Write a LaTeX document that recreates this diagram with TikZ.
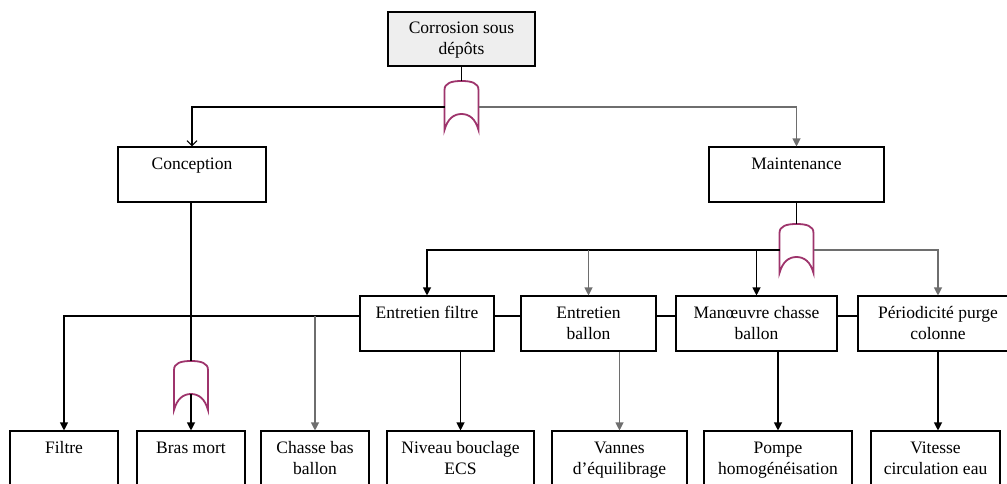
\documentclass[tikz,border=0pt]{standalone}
\usepackage{fontspec}
\setmainfont{Liberation Serif}
\usetikzlibrary{arrows.meta}
\definecolor{gatecol}{RGB}{158,52,108}
\definecolor{topfill}{RGB}{238,238,238}
\definecolor{lgray}{RGB}{110,110,110}
\tikzset{
  box/.style={draw, line width=1.1pt, rectangle, inner sep=0pt, minimum height=55pt},
  lbl/.style={font=\fontsize{17.5}{21}\selectfont, align=center, anchor=base, inner sep=0pt},
  conn/.style={line width=1.1pt},
  afill/.style={conn, -{Triangle[length=8pt,width=8pt]}},
  aopen/.style={conn, -{Straight Barb[length=5pt,width=10pt]}},
  orgate/.pic={
    \draw[gatecol, line width=1.8pt, fill=white]
      (-17,49) -- (-17,9) .. controls (-17,2) and (-10,0) .. (0,0)
      .. controls (10,0) and (17,2) .. (17,9) -- (17,49)
      .. controls (14,38) and (8,33) .. (0,33)
      .. controls (-8,33) and (-14,38) .. (-17,49) -- cycle;
    \coordinate (-top) at (0,0);
    \coordinate (-left) at (-17,26);
    \coordinate (-right) at (17,26);
    \coordinate (-arc) at (0,33);
  }
}
\begin{document}
\begin{tikzpicture}[x=1pt,y=-1pt]
\useasboundingbox (0,0) rectangle (1007,483);
% boxes
\node[box, fill=topfill, minimum width=147pt, minimum height=54pt] (topbox) at (461.5,39) {};
\node[box, minimum width=148pt] (conc) at (192,174.5) {};
\node[box, minimum width=175pt] (maint) at (796.5,174.5) {};
\node[box, minimum width=134pt] (ef) at (427,323.5) {};
\node[box, minimum width=135pt] (eb) at (588.5,323.5) {};
\node[box, minimum width=161pt] (man) at (756.5,323.5) {};
\node[box, minimum width=160pt] (per) at (938,323.5) {};
\node[box, minimum width=108pt] (filtre) at (64,458.5) {};
\node[box, minimum width=108pt] (bras) at (191,458.5) {};
\node[box, minimum width=108pt] (chasse) at (315,458.5) {};
\node[box, minimum width=147pt] (niv) at (460.5,458.5) {};
\node[box, minimum width=135pt] (van) at (619.5,458.5) {};
\node[box, minimum width=148pt] (pompe) at (778,458.5) {};
\node[box, minimum width=129pt] (vit) at (935.5,458.5) {};
% labels (base = baseline of last line)
\node[lbl] (ttop) at ([yshift=-43pt]topbox.north) {Corrosion sous\\dépôts};
\node[lbl] (tconc) at ([yshift=-23pt]conc.north) {Conception};
\node[lbl] (tmaint) at ([yshift=-23pt]maint.north) {Maintenance};
\node[lbl] (tef) at ([yshift=-23pt]ef.north) {Entretien filtre};
\node[lbl] (teb) at ([yshift=-44pt]eb.north) {Entretien\\ballon};
\node[lbl] (tman) at ([yshift=-44pt]man.north) {Manœuvre chasse\\ballon};
\node[lbl] (tper) at ([yshift=-44pt]per.north) {Périodicité purge\\colonne};
\node[lbl] (tfil) at ([yshift=-23pt]filtre.north) {Filtre};
\node[lbl] (tbras) at ([yshift=-23pt]bras.north) {Bras mort};
\node[lbl] (tcha) at ([yshift=-44pt]chasse.north) {Chasse bas\\ballon};
\node[lbl] (tniv) at ([yshift=-44pt]niv.north) {Niveau bouclage\\ECS};
\node[lbl] (tvan) at ([yshift=-44pt]van.north) {Vannes\\d’équilibrage};
\node[lbl] (tpom) at ([yshift=-44pt]pompe.north) {Pompe\\homogénéisation};
\node[lbl] (tvit) at ([yshift=-44pt]vit.north) {Vitesse\\circulation eau};
% gates
\pic (g1) at (461.5,81) {orgate};
\pic (g2) at (796.5,224) {orgate};
\pic (g3) at (191,361) {orgate};
\coordinate (hline) at (0,316);
% connectors
\draw[conn] (topbox.south -| g1-top) -- (g1-top);
\draw[aopen] (g1-left) -| (conc.north);
\draw[afill, draw=lgray] (g1-right) -| (maint.north);
\draw[conn] (maint.south -| g2-top) -- (g2-top);
\draw[afill] (g2-left) -| (ef.north);
\draw[afill, draw=lgray] (g2-left -| eb.north) -- (eb.north);
\draw[afill] (g2-left -| man.north) -- (man.north);
\draw[afill, draw=lgray] (g2-right) -| (per.north);
\draw[conn] (ef.east |- hline) -- (eb.west |- hline);
\draw[conn] (eb.east |- hline) -- (man.west |- hline);
\draw[conn] (man.east |- hline) -- (per.west |- hline);
\draw[afill] (ef.west |- hline) -| (filtre.north);
\draw[afill, draw=lgray] (chasse.north |- hline) -- (chasse.north);
\draw[conn] (conc.south -| g3-top) -- (g3-top);
\draw[afill] (g3-arc) -- (bras.north);
\draw[afill] (ef.south -| niv.north) -- (niv.north);
\draw[afill, draw=lgray] (eb.south -| van.north) -- (van.north);
\draw[afill] (man.south -| pompe.north) -- (pompe.north);
\draw[afill] (per.south) -- (per.south |- vit.north);
\end{tikzpicture}
\end{document}
